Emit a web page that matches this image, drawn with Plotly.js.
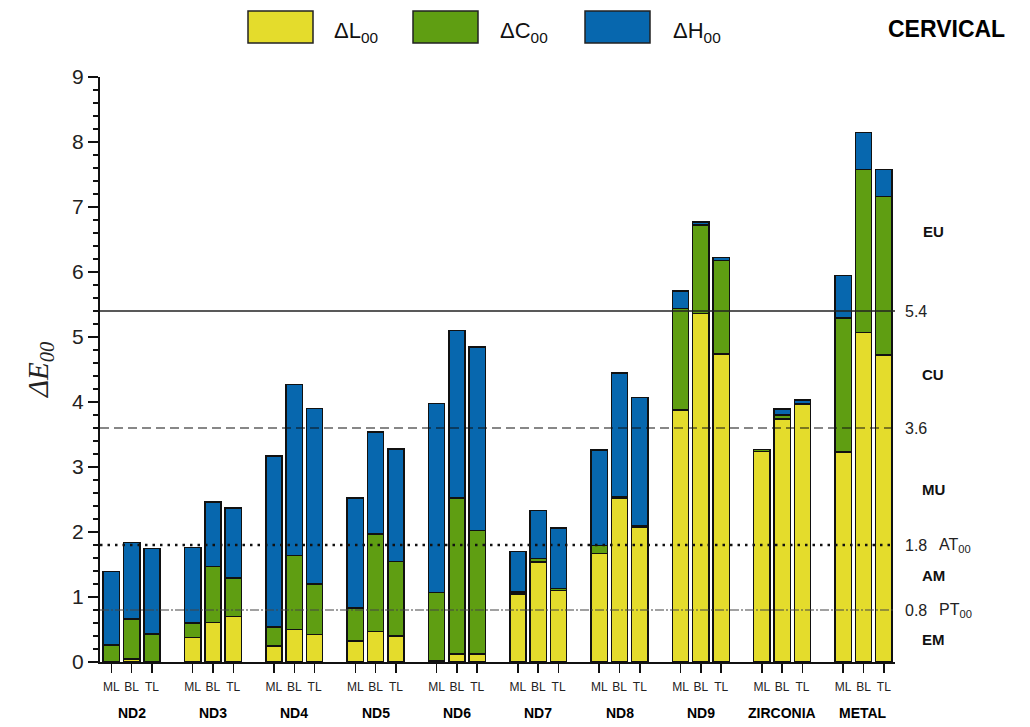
<!DOCTYPE html>
<html>
<head>
<meta charset="utf-8">
<script src="https://cdn.plot.ly/plotly-3.0.1.min.js"></script>
<style>html,body{margin:0;padding:0;background:#fff;}#chart{width:1030px;height:727px;}</style>
</head>
<body>
<div id="chart"></div>
<script>
// ---- data ----
const groups = ['ND2','ND3','ND4','ND5','ND6','ND7','ND8','ND9','ZIRCONIA','METAL'];
const subs = ['ML','BL','TL'];
// stacked segment heights, order: group by group, ML/BL/TL
const dL = [0.00,0.05,0.00, 0.38,0.61,0.70, 0.25,0.50,0.42, 0.32,0.47,0.40, 0.02,0.12,0.12,
            1.05,1.54,1.10, 1.67,2.52,2.08, 3.88,5.36,4.74, 3.24,3.74,3.96, 3.23,5.07,4.72];
const dC = [0.26,0.61,0.43, 0.22,0.86,0.59, 0.29,1.14,0.78, 0.51,1.50,1.15, 1.05,2.40,1.90,
            0.03,0.05,0.03, 0.12,0.02,0.02, 1.56,1.36,1.44, 0.03,0.06,0.01, 2.06,2.51,2.44];
const dH = [1.13,1.18,1.32, 1.16,0.99,1.08, 2.63,2.63,2.70, 1.69,1.57,1.73, 2.91,2.58,2.83,
            0.62,0.74,0.93, 1.47,1.91,1.97, 0.27,0.05,0.04, 0.00,0.09,0.06, 0.66,0.57,0.42];
const seriesNames = ['ΔL<sub>00</sub>','ΔC<sub>00</sub>','ΔH<sub>00</sub>'];
const thresholds = [5.4, 3.6, 1.8, 0.8];
const thresholdLabels = ['5.4','3.6','1.8','0.8'];
const thresholdTags = ['', '', 'AT<sub>00</sub>', 'PT<sub>00</sub>'];
const zoneLabels = ['EU','CU','MU','AM','EM'];
const zoneValues = [6.63, 4.43, 2.65, 1.33, 0.34];

// ---- styling ----
const colors = ['#E4DC2C','#5F9E12','#0767AE'];
const L = 100, R = 135, T = 77, B = 65, W = 1030, H = 727;
const pw = W - L - R, ph = H - T - B;
const px2x = p => (p - L) / pw;
const px2y = p => (H - B - p) / ph;
const FONT = 'Liberation Sans, Arial, sans-serif';

const xs = [], tt = [];
groups.forEach((g, gi) => subs.forEach((s, si) => { xs.push(gi * 4 + si); tt.push(s); }));

const traces = [dL, dC, dH].map((vals, k) => ({
  type: 'bar', x: xs, y: vals, name: seriesNames[k], width: 0.8,
  marker: {color: colors[k], line: {color: '#111', width: 1.5}},
  hoverinfo: 'skip'
}));

const shapes = [];
const lineStyles = [
  {color: '#222', width: 1.5, dash: 'solid'},
  {color: '#111', width: 1.2, dash: '9px,5px'},
  {color: '#111', width: 2.5, dash: '2.5px,5px'},
  {color: '#444', width: 1.2, dash: '9px,2px,2px,2px'}
];
thresholds.forEach((v, i) => shapes.push({
  type: 'line', xref: 'paper', yref: 'y', x0: 0, x1: 1, y0: v, y1: v,
  line: lineStyles[i], layer: 'above'
}));
// legend boxes
const legX = [248, 413, 585];
legX.forEach((x0, k) => shapes.push({
  type: 'rect', xref: 'paper', yref: 'paper',
  x0: px2x(x0), x1: px2x(x0 + 65), y0: px2y(43), y1: px2y(11),
  fillcolor: colors[k], line: {color: '#222', width: 1.5}
}));

const annotations = [];
const legT = [332, 498, 671];
legT.forEach((x, k) => annotations.push({
  xref: 'paper', yref: 'paper', x: px2x(x), y: px2y(32), xanchor: 'left', yanchor: 'middle',
  text: seriesNames[k], showarrow: false, font: {family: FONT, size: 22, color: '#111'}
}));
annotations.push({
  xref: 'paper', yref: 'paper', x: px2x(886), y: px2y(29), xanchor: 'left', yanchor: 'middle',
  text: '<b>CERVICAL</b>', showarrow: false, font: {family: FONT, size: 23, color: '#000'}
});
// group labels
groups.forEach((g, gi) => annotations.push({
  xref: 'x', yref: 'paper', x: gi * 4 + 1, y: px2y(713), xanchor: 'center', yanchor: 'middle',
  text: '<b>' + g + '</b>', showarrow: false, font: {family: FONT, size: 14, color: '#000'}
}));
// threshold labels
thresholds.forEach((v, i) => {
  annotations.push({
    xref: 'paper', yref: 'y', x: px2x(903), y: v, xanchor: 'left', yanchor: 'middle',
    text: thresholdLabels[i], showarrow: false, font: {family: FONT, size: 16, color: '#222'}
  });
  if (thresholdTags[i]) annotations.push({
    xref: 'paper', yref: 'y', x: px2x(937), y: v, xanchor: 'left', yanchor: 'middle',
    text: thresholdTags[i], showarrow: false, font: {family: FONT, size: 16, color: '#222'}
  });
});
zoneLabels.forEach((z, i) => annotations.push({
  xref: 'paper', yref: 'y', x: px2x(933), y: zoneValues[i], xanchor: 'center', yanchor: 'middle',
  text: '<b>' + z + '</b>', showarrow: false, font: {family: FONT, size: 15, color: '#111'}
}));
// y title
annotations.push({
  xref: 'paper', yref: 'paper', x: px2x(40), y: px2y(370), xanchor: 'center', yanchor: 'middle',
  text: '<i>ΔE<sub>00</sub></i>', textangle: -90, showarrow: false,
  font: {family: 'Liberation Serif, Times New Roman, serif', size: 29, color: '#222'}
});

const layout = {
  width: W, height: H,
  margin: {l: L, r: R, t: T, b: B, pad: 0},
  paper_bgcolor: '#fff', plot_bgcolor: '#fff',
  barmode: 'stack', showlegend: false,
  xaxis: {
    range: [-0.556, 38.55], tickmode: 'array', tickvals: xs, ticktext: tt,
    ticks: 'outside', ticklen: 9, tickwidth: 1.5, tickcolor: '#111',
    ticklabelstandoff: 4,
    showline: true, linecolor: '#111', linewidth: 2,
    showgrid: false, zeroline: false,
    tickfont: {family: FONT, size: 12, color: '#222'}
  },
  yaxis: {
    range: [0, 9], dtick: 1, tick0: 0,
    ticks: 'outside', ticklen: 10, tickwidth: 1.5, tickcolor: '#111',
    minor: {dtick: 0.2, ticklen: 5, tickwidth: 1.5, tickcolor: '#111', ticks: 'outside', showgrid: false},
    showline: true, linecolor: '#111', linewidth: 2,
    showgrid: false, zeroline: false,
    tickfont: {family: FONT, size: 21, color: '#222'}
  },
  shapes: shapes,
  annotations: annotations
};

Plotly.newPlot('chart', traces, layout, {staticPlot: true, displayModeBar: false});
</script>
</body>
</html>
